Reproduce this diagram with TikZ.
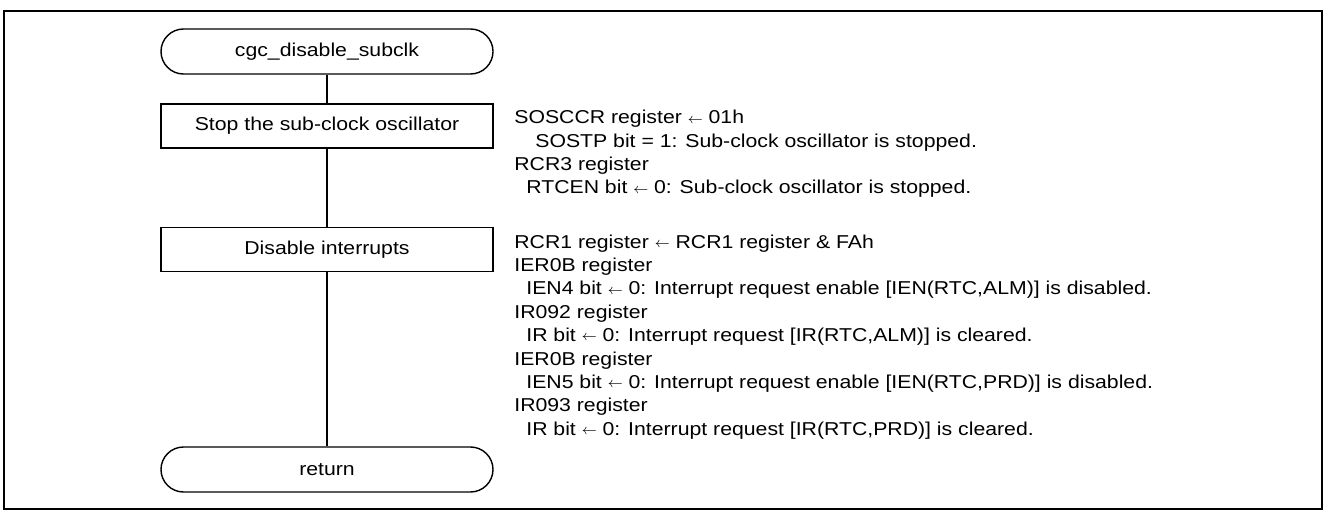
\documentclass[tikz,border=0pt]{standalone}
\usepackage{fontspec}
\setmainfont{Liberation Sans}[FakeStretch=1.14]
\newcommand{\regarrow}{{\fontsize{8.5}{8.5}\selectfont\raisebox{0.4pt}{$\leftarrow$}}}
\tikzset{
    term/.style={draw, line width=0.8pt, rounded corners=0.45cm, minimum width=6.64cm, minimum height=0.9cm},
    proc/.style={draw, line width=0.8pt, minimum width=6.64cm, minimum height=0.88cm},
    note/.style={anchor=north west, inner sep=0pt, align=left},
}
\begin{document}
\begin{tikzpicture}[font=\fontsize{10.6}{13.3}\selectfont]
        %画外框
        \useasboundingbox (0,0) rectangle (26.56,-10.22);
        \draw[line width=1.1pt] (0.08,-0.22) rectangle (26.44,-10.18);
        %画流程节点
        \node[term] (start) at (6.54,-1.03) {cgc\_disable\_subclk};
        \node[proc] (stop) at (6.54,-2.52) {Stop the sub-clock oscillator};
        \node[proc] (disable) at (6.54,-4.99) {Disable interrupts};
        \node[term] (ret) at (6.54,-9.39) {return};
        %画连线
        \draw[line width=0.8pt] (start) -- (stop);
        \draw[line width=0.8pt] (stop) -- (disable);
        \draw[line width=0.8pt] (disable) -- (ret);
        %标说明文字
        \node[note] (note1) at (10.28,-2.20) {SOSCCR register \regarrow{} 01h\\
            \hspace*{0.42cm}SOSTP bit = 1: Sub-clock oscillator is stopped.\\
            RCR3 register\\
            \hspace*{0.24cm}RTCEN bit \regarrow{} 0: Sub-clock oscillator is stopped.};
        \node[note] (note2) at (10.28,-4.686) {RCR1 register \regarrow{} RCR1 register \& FAh\\
            IER0B register\\
            \hspace*{0.24cm}IEN4 bit \regarrow{} 0: Interrupt request enable [IEN(RTC,ALM)] is disabled.\\
            IR092 register\\
            \hspace*{0.24cm}IR bit \regarrow{} 0: Interrupt request [IR(RTC,ALM)] is cleared.\\
            IER0B register\\
            \hspace*{0.24cm}IEN5 bit \regarrow{} 0: Interrupt request enable [IEN(RTC,PRD)] is disabled.\\
            IR093 register\\
            \hspace*{0.24cm}IR bit \regarrow{} 0: Interrupt request [IR(RTC,PRD)] is cleared.};
\end{tikzpicture}
\end{document}
